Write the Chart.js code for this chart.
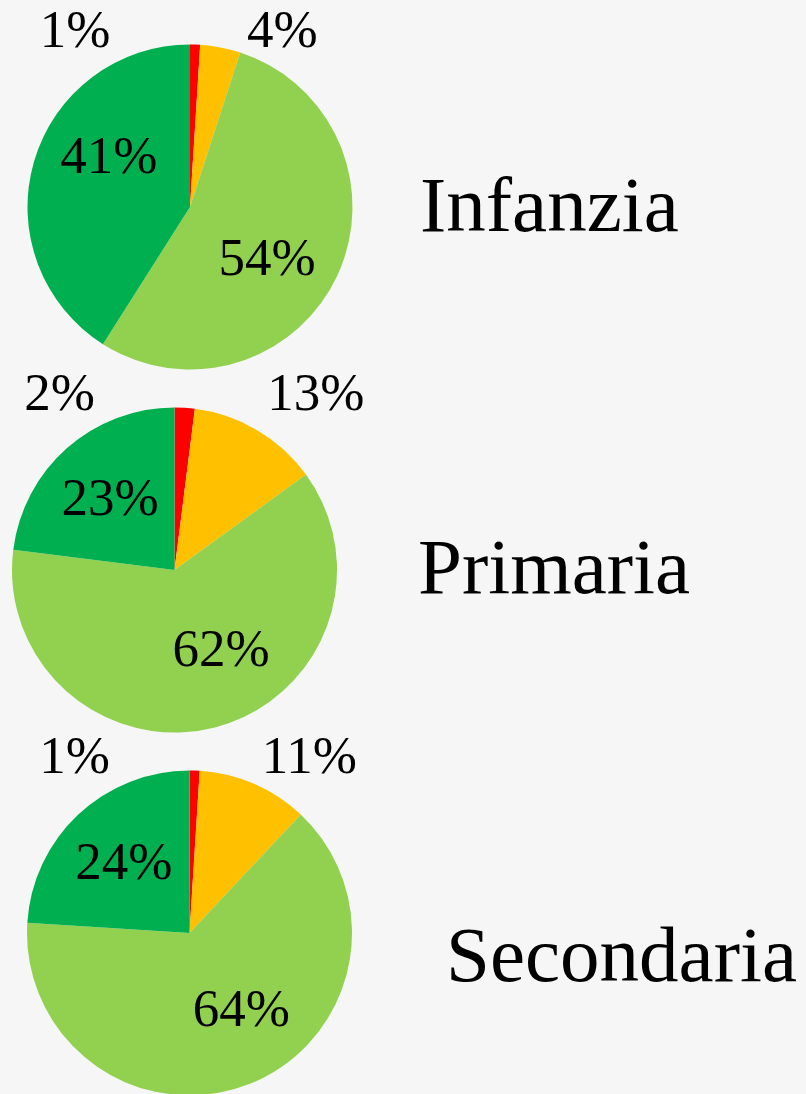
<!DOCTYPE html>
<html>
<head>
<meta charset="utf-8">
<script src="https://cdn.jsdelivr.net/npm/chart.js@4.4.1/dist/chart.umd.min.js"></script>
<style>
  html, body { margin: 0; padding: 0; }
  body { width: 806px; height: 1094px; overflow: hidden; background: #f6f6f6; position: relative;
         font-family: "Liberation Serif", "DejaVu Serif", serif; }
  .pie-box { position: absolute; left: 0; width: 400px; height: 440px; }
  .title { position: absolute; font-size: 79px; color: #000; line-height: 1; white-space: nowrap; }
</style>
</head>
<body>

<div class="pie-box" id="box0"><canvas id="pie0"></canvas></div>
<div class="pie-box" id="box1"><canvas id="pie1"></canvas></div>
<div class="pie-box" id="box2"><canvas id="pie2"></canvas></div>

<div class="title" id="title0"></div>
<div class="title" id="title1"></div>
<div class="title" id="title2"></div>

<script>
// ==========================================
// Dati
// ==========================================
const levels = ['Infanzia', 'Primaria', 'Secondaria'];
const categories = ['Livello 1', 'Livello 2', 'Livello 3', 'Livello 4'];
const valInfanzia = [1, 4, 54, 41];
const valPrimaria = [2, 13, 62, 23];
const valSecondaria = [1, 11, 64, 24];
const sliceColors = ['#ff0000', '#ffc000', '#92d050', '#00b050'];

const seriesList = [valInfanzia, valPrimaria, valSecondaria];

// layout (centro e raggio di ogni torta, posizione dei titoli)
const pieLayout = [
  { cx: 190, cy: 206.5, r: 162.5 },
  { cx: 174.5, cy: 570, r: 162.5 },
  { cx: 189.5, cy: 932.5, r: 162.5 }
];
const titleLayout = [
  { left: 420, baseline: 235 },
  { left: 418, baseline: 597 },
  { left: 446, baseline: 985 }
];
const BOX_H = 440, BOX_W = 400;
const TITLE_PX = 79;

// etichette percentuali: dentro per le fette grandi, sopra la torta per le piccole
const pctLabels = {
  id: 'pctLabels',
  afterDatasetsDraw(chart) {
    const ctx = chart.ctx;
    const meta = chart.getDatasetMeta(0);
    const data = chart.data.datasets[0].data;
    ctx.save();
    ctx.fillStyle = '#000';
    ctx.font = '53px "Liberation Serif", serif';
    ctx.textBaseline = 'middle';
    meta.data.forEach((arc, i) => {
      const p = arc.getProps(['x', 'y', 'startAngle', 'endAngle', 'outerRadius'], true);
      const mid = (p.startAngle + p.endAngle) / 2;
      const txt = data[i] + '%';
      const r = p.outerRadius;
      if (data[i] >= 20) {
        // spostamento verso la diagonale più vicina (come il "best fit" di Office)
        const q = Math.PI / 2;
        const diag = Math.round((mid - q / 2) / q) * q + q / 2;
        const a = (mid + diag) / 2;
        ctx.textAlign = 'center';
        ctx.fillText(txt, p.x + Math.cos(a) * r * 0.58, p.y + Math.sin(a) * r * 0.58);
      } else {
        const ty = p.y - r - 11;
        if (i === 0) {
          ctx.textAlign = 'right';
          ctx.fillText(txt, p.x - r * 0.49, ty);
        } else {
          ctx.textAlign = 'left';
          const dx = Math.max(Math.cos(mid) * r * 1.12, r * 0.35);
          ctx.fillText(txt, p.x + dx, ty);
        }
      }
    });
    ctx.restore();
  }
};

levels.forEach((lv, k) => {
  const L = pieLayout[k];
  const box = document.getElementById('box' + k);
  box.style.top = (L.cy - BOX_H / 2) + 'px';

  const t = document.getElementById('title' + k);
  t.textContent = lv;
  t.style.left = titleLayout[k].left + 'px';
  // line-height 1: baseline ~ 0.89em sotto il bordo superiore (Liberation Serif)
  t.style.top = (titleLayout[k].baseline - TITLE_PX * 0.89) + 'px';

  new Chart(document.getElementById('pie' + k), {
    type: 'pie',
    data: {
      labels: categories,
      datasets: [{ data: seriesList[k], backgroundColor: sliceColors, borderWidth: 0 }]
    },
    options: {
      responsive: true, maintainAspectRatio: false, animation: false,
      layout: { padding: {
        left: L.cx - L.r, right: BOX_W - L.cx - L.r,
        top: BOX_H / 2 - L.r, bottom: BOX_H / 2 - L.r
      } },
      plugins: { legend: { display: false }, tooltip: { enabled: false } }
    },
    plugins: [pctLabels]
  });
});
</script>
</body>
</html>
